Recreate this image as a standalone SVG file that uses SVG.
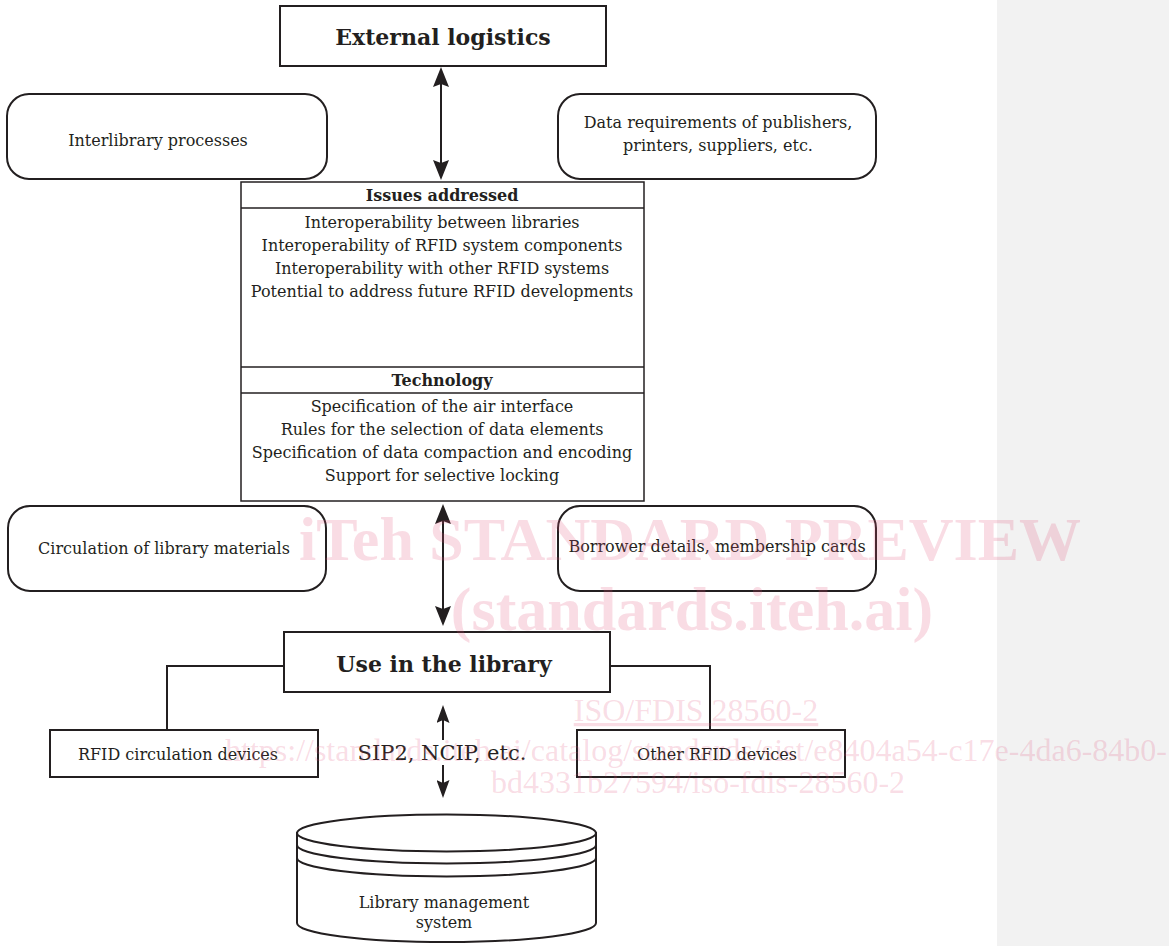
<svg xmlns="http://www.w3.org/2000/svg" width="1169" height="946" viewBox="0 0 1169 946">
<defs>
<style>
.t{font-family:"DejaVu Serif","Liberation Serif",serif;font-size:16px;fill:#231f20;text-anchor:middle}
.b{font-weight:bold}
.big{font-size:22px}
.sip{font-size:21px}
.box{fill:#fff;stroke:#231f20;stroke-width:2}
.thin{fill:none;stroke:#231f20;stroke-width:1.5}
.ln{fill:none;stroke:#231f20;stroke-width:2}
.wm{font-family:"Liberation Serif","Times New Roman",serif;fill:#e0507a;fill-opacity:0.2;text-anchor:middle}
.wl{font-size:62px;font-weight:bold}
.ws{font-size:32px}
</style>
<marker id="ah" viewBox="0 0 20 16" refX="16" refY="8" markerWidth="20" markerHeight="16" markerUnits="userSpaceOnUse" orient="auto-start-reverse">
<path d="M0,0 L20,8 L0,16 L3,8 Z" fill="#231f20"/>
</marker>
<marker id="ahs" viewBox="0 0 18 13" refX="14" refY="6.5" markerWidth="18" markerHeight="13" markerUnits="userSpaceOnUse" orient="auto-start-reverse">
<path d="M0,0 L18,6.5 L0,13 L3,6.5 Z" fill="#231f20"/>
</marker>
</defs>
<rect x="0" y="0" width="1169" height="946" fill="#fff"/>
<rect x="997" y="0" width="172" height="946" fill="#f2f2f2"/>
<g id="connectors">
<line class="ln" x1="441" y1="71" x2="441" y2="176" marker-start="url(#ah)" marker-end="url(#ah)"/>
<line class="ln" x1="443" y1="508" x2="443" y2="622" marker-start="url(#ah)" marker-end="url(#ah)"/>
<line class="ln" x1="443" y1="740" x2="443" y2="709" marker-end="url(#ahs)"/>
<line class="ln" x1="443" y1="765" x2="443" y2="794" marker-end="url(#ahs)"/>
<polyline class="ln" points="284,666 167,666 167,730"/>
<polyline class="ln" points="610,666 710,666 710,730"/>
</g>
<g id="external-logistics">
<rect class="box" x="280" y="6" width="326" height="60"/>
<text class="t b big" x="443" y="45">External logistics</text>
</g>
<g id="interlibrary">
<rect class="box" x="7" y="94" width="320" height="85" rx="22"/>
<text class="t" x="158" y="146">Interlibrary processes</text>
</g>
<g id="data-requirements">
<rect class="box" x="558" y="94" width="318" height="85" rx="22"/>
<text class="t" x="718" y="128">Data requirements of publishers,</text>
<text class="t" x="718" y="151">printers, suppliers, etc.</text>
</g>
<g id="issues-technology">
<rect class="thin" x="241" y="182" width="403" height="319" fill="#fff"/>
<line class="thin" x1="241" y1="208" x2="644" y2="208"/>
<line class="thin" x1="241" y1="367" x2="644" y2="367"/>
<line class="thin" x1="241" y1="393" x2="644" y2="393"/>
<text class="t b" x="442" y="201">Issues addressed</text>
<text class="t" x="442" y="228">Interoperability between libraries</text>
<text class="t" x="442" y="251">Interoperability of RFID system components</text>
<text class="t" x="442" y="274">Interoperability with other RFID systems</text>
<text class="t" x="442" y="297">Potential to address future RFID developments</text>
<text class="t b" x="442" y="386">Technology</text>
<text class="t" x="442" y="412">Specification of the air interface</text>
<text class="t" x="442" y="435">Rules for the selection of data elements</text>
<text class="t" x="442" y="458">Specification of data compaction and encoding</text>
<text class="t" x="442" y="481">Support for selective locking</text>
</g>
<g id="circulation">
<rect class="box" x="8" y="506" width="318" height="85" rx="22"/>
<text class="t" x="164" y="554">Circulation of library materials</text>
</g>
<g id="borrower">
<rect class="box" x="558" y="506" width="318" height="85" rx="22"/>
<text class="t" x="717" y="552">Borrower details, membership cards</text>
</g>
<g id="use-in-library">
<rect class="box" x="284" y="632" width="326" height="60"/>
<text class="t b big" x="444" y="672">Use in the library</text>
</g>
<g id="rfid-circulation">
<rect class="box" x="50" y="730" width="268" height="47"/>
<text class="t" x="178" y="760">RFID circulation devices</text>
</g>
<g id="other-rfid">
<rect class="box" x="577" y="730" width="268" height="47"/>
<text class="t" x="717" y="760">Other RFID devices</text>
</g>
<g id="sip2-label">
<text class="t sip" x="442" y="760">SIP2, NCIP, etc.</text>
</g>
<g id="library-management-system">
<path class="box" d="M297,833 L297,923 A149.5,19 0 0 0 596,923 L596,833 Z"/>
<ellipse class="box" cx="446.5" cy="833" rx="149.5" ry="18.5"/>
<path class="ln" d="M297,845 A149.5,18.5 0 0 0 596,845"/>
<path class="ln" d="M297,858 A149.5,18.5 0 0 0 596,858"/>
<text class="t" x="444" y="908">Library management</text>
<text class="t" x="444" y="928">system</text>
</g>
<g id="watermark">
<text class="wm wl" x="690" y="560">iTeh STANDARD PREVIEW</text>
<text class="wm wl" x="692" y="630">(standards.iteh.ai)</text>
<text class="wm ws" x="696" y="721" text-decoration="underline">ISO/FDIS 28560-2</text>
<text class="wm ws" x="696" y="761">https://standards.iteh.ai/catalog/standards/sist/e8404a54-c17e-4da6-84b0-</text>
<text class="wm ws" x="698" y="793">bd4331b27594/iso-fdis-28560-2</text>
</g>
</svg>
